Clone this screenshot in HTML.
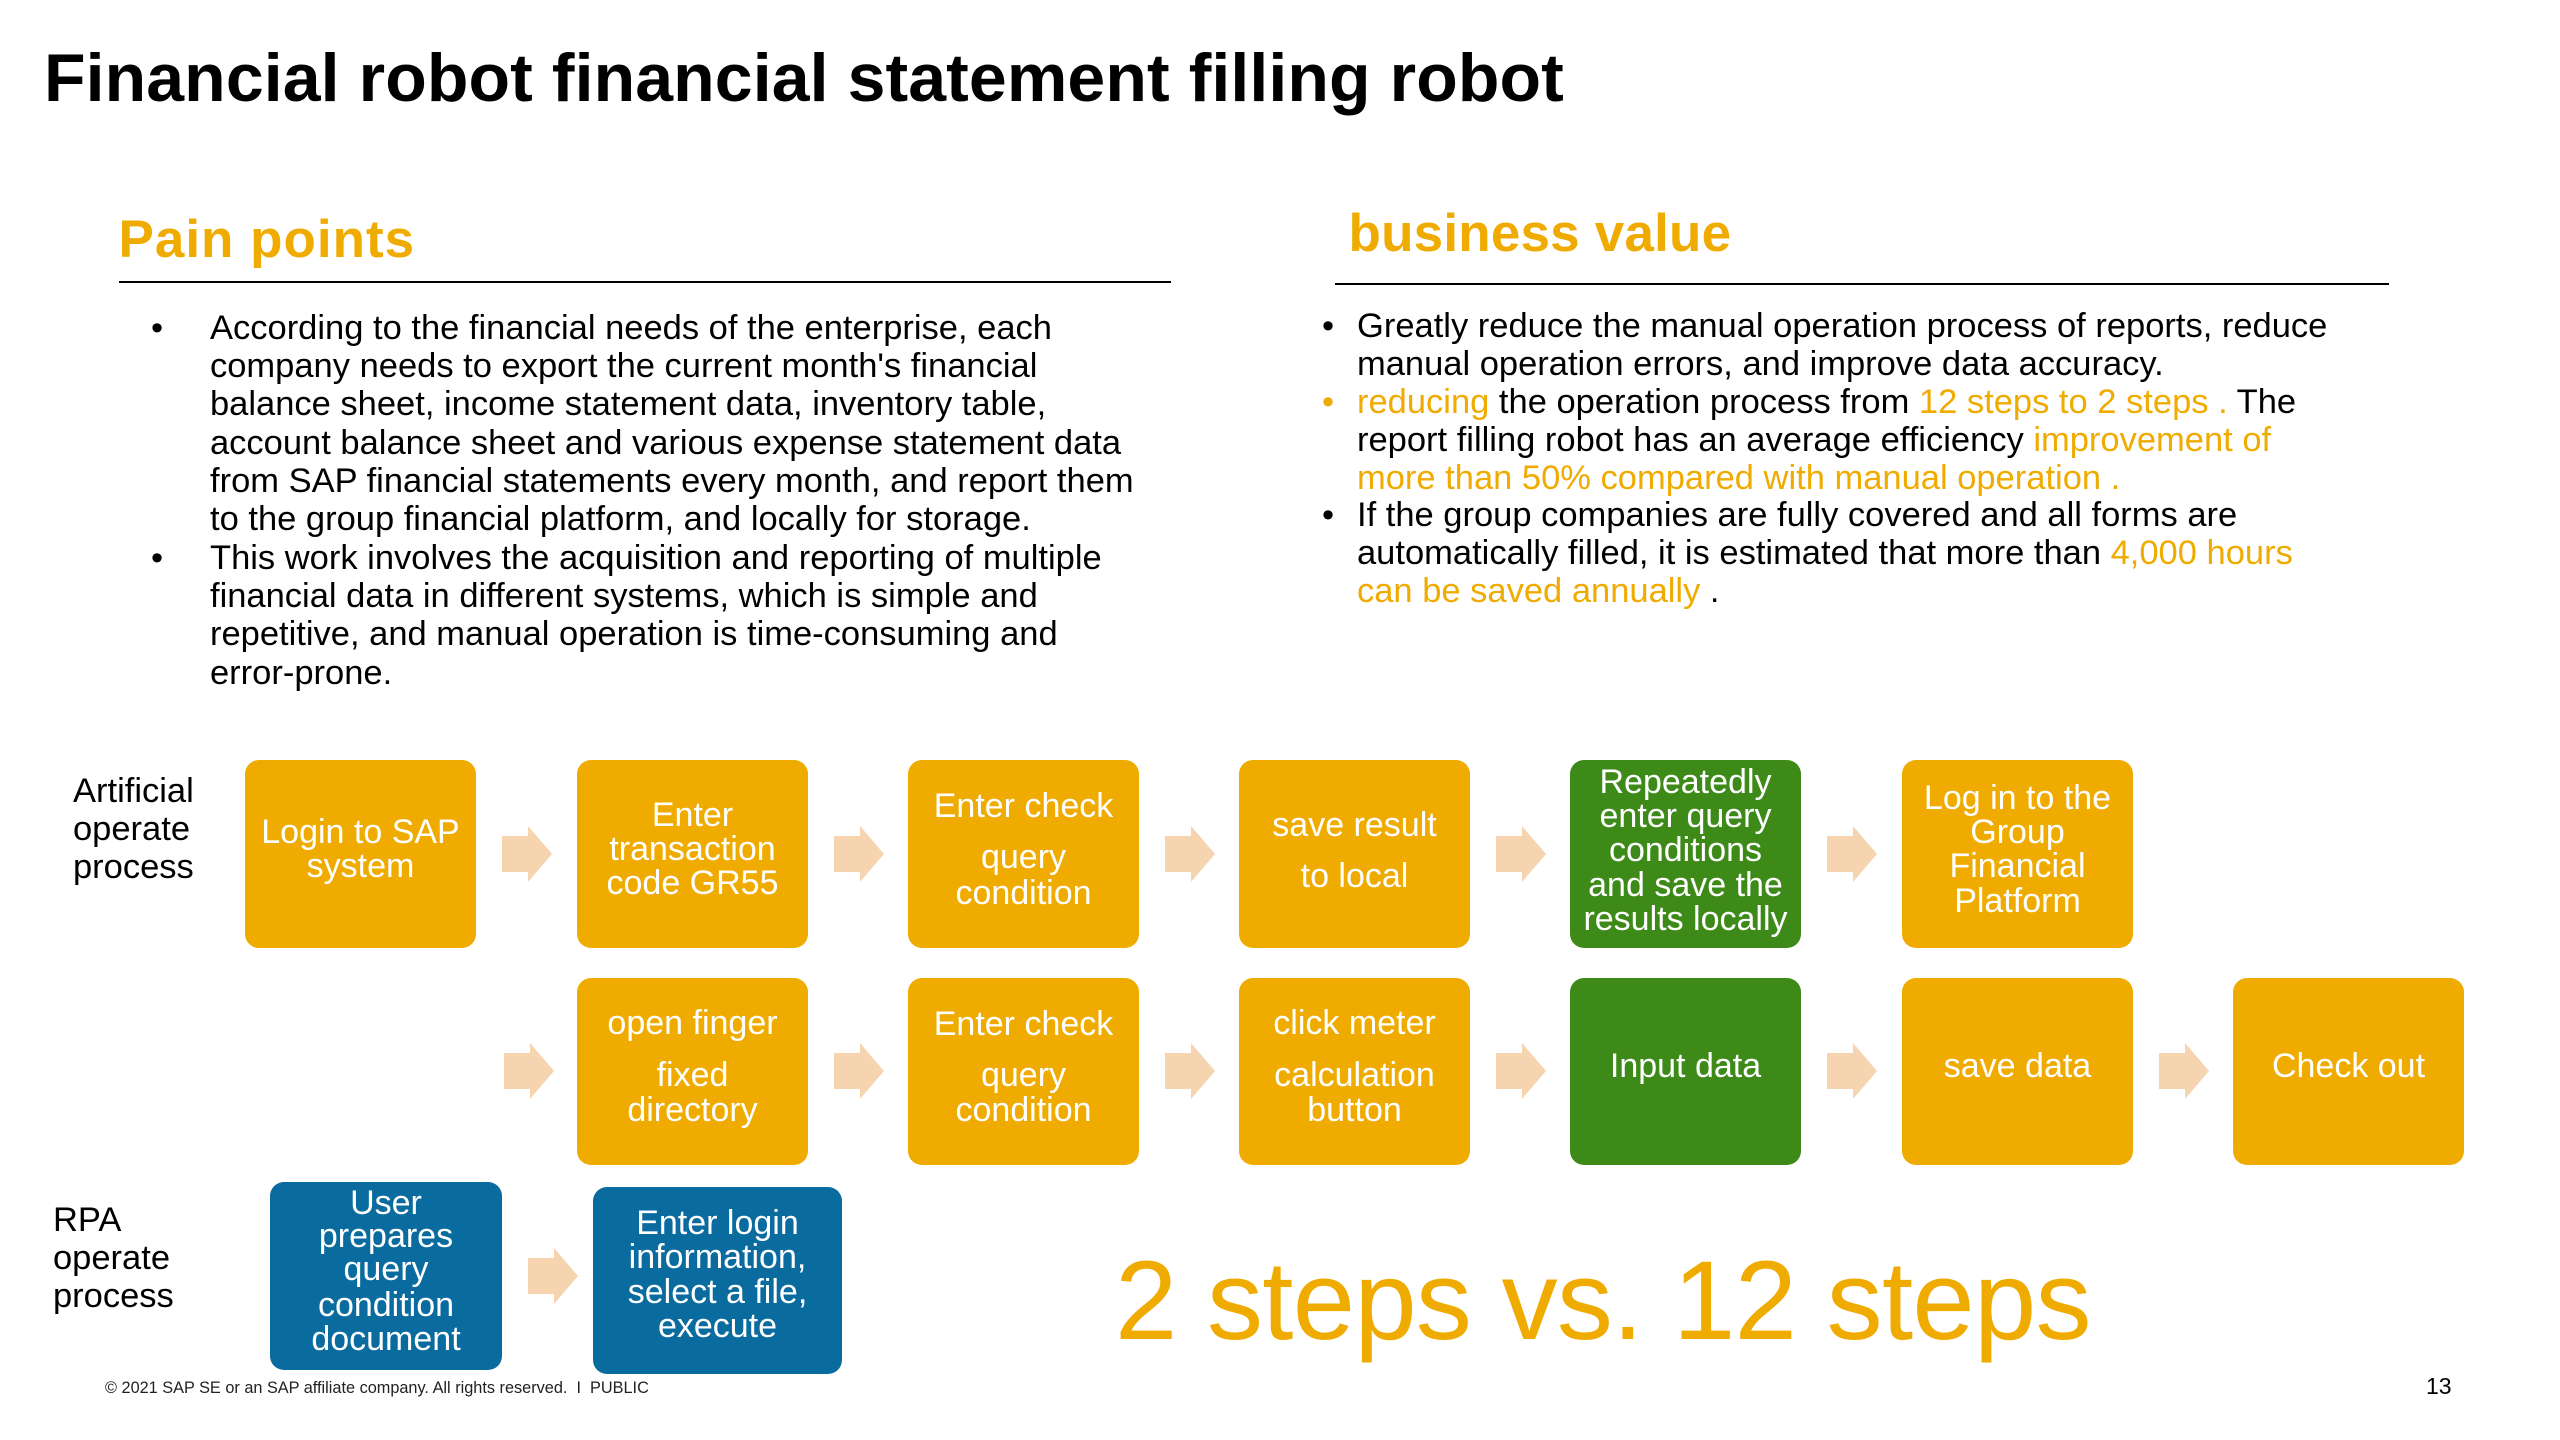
<!DOCTYPE html>
<html>
<head>
<meta charset="utf-8">
<style>
  html, body { margin:0; padding:0; }
  body { width:2560px; height:1440px; position:relative; overflow:hidden; background:#fff;
         font-family:"Liberation Sans", Arial, sans-serif; color:#000; }
  .t { position:absolute; white-space:nowrap; }
  .o { color:#F0AB00; }
  .box { position:absolute; border-radius:14px; color:#fff; }
  .org { background:#F0AB00; }
  .grn { background:#3D8A19; }
  .blu { background:#0A6B9F; }
  .box .l { position:absolute; left:-10px; right:-10px; text-align:center; font-size:34px; line-height:34.5px; white-space:nowrap; }
  .body { font-size:34.5px; }
  .hr { position:absolute; height:2px; background:#000; }
</style>
</head>
<body>

<!-- Title -->
<div class="t" style="left:44px; top:44.4px; font-size:68px; line-height:68px; font-weight:bold; letter-spacing:0.1px;">Financial robot financial statement filling robot</div>

<!-- Pain points header -->
<div class="t o" style="left:118.5px; top:213.1px; font-size:53px; line-height:53px; font-weight:bold; letter-spacing:1px;">Pain points</div>
<div class="hr" style="left:119px; top:280.5px; width:1052px;"></div>

<!-- Business value header -->
<div class="t o" style="left:1348.5px; top:206.7px; font-size:53px; line-height:53px; font-weight:bold; letter-spacing:0.2px;">business value</div>
<div class="hr" style="left:1335px; top:282.7px; width:1054px;"></div>

<!-- Pain points body -->
<div class="t body" style="left:151px; top:308.7px; line-height:38.35px;">•</div>
<div class="t body" style="left:151px; top:538.8px; line-height:38.35px;">•</div>
<div class="t body" style="left:210px; top:308.7px; line-height:38.35px;">According to the financial needs of the enterprise, each<br>company needs to export the current month's financial<br>balance sheet, income statement data, inventory table,<br>account balance sheet and various expense statement data<br>from SAP financial statements every month, and report them<br>to the group financial platform, and locally for storage.<br>This work involves the acquisition and reporting of multiple<br>financial data in different systems, which is simple and<br>repetitive, and manual operation is time-consuming and<br>error-prone.</div>

<!-- Business value body -->
<div class="t body" style="left:1322px; top:307.9px; line-height:37.9px;">•</div>
<div class="t body o" style="left:1322px; top:383.7px; line-height:37.9px;">•</div>
<div class="t body" style="left:1322px; top:497.4px; line-height:37.9px;">•</div>
<div class="t body" style="left:1357px; top:307.9px; line-height:37.9px;">Greatly reduce the manual operation process of reports, reduce<br>manual operation errors, and improve data accuracy.<br><span class="o">reducing</span> the operation process from <span class="o">12 steps to 2 steps .</span> The<br>report filling robot has an average efficiency <span class="o">improvement of</span><br><span class="o">more than 50% compared with manual operation .</span><br>If the group companies are fully covered and all forms are<br>automatically filled, it is estimated that more than <span class="o">4,000 hours</span><br><span class="o">can be saved annually</span> .</div>

<!-- Left labels -->
<div class="t body" style="left:73px; top:771.7px; line-height:38px;">Artificial<br>operate<br>process</div>
<div class="t body" style="left:53px; top:1201px; line-height:38px;">RPA<br>operate<br>process</div>

<!-- Row 1 boxes -->
<div class="box org" style="left:245px; top:760px; width:231px; height:188px;">
  <div class="l" style="top:55px;">Login to SAP</div>
  <div class="l" style="top:89px;">system</div>
</div>
<div class="box org" style="left:577px; top:760px; width:231px; height:188px;">
  <div class="l" style="top:37.5px;">Enter</div>
  <div class="l" style="top:72px;">transaction</div>
  <div class="l" style="top:106px;">code GR55</div>
</div>
<div class="box org" style="left:908px; top:760px; width:231px; height:188px;">
  <div class="l" style="top:29px;">Enter check</div>
  <div class="l" style="top:80px;">query</div>
  <div class="l" style="top:116px;">condition</div>
</div>
<div class="box org" style="left:1239px; top:760px; width:231px; height:188px;">
  <div class="l" style="top:48px;">save result</div>
  <div class="l" style="top:99px;">to local</div>
</div>
<div class="box grn" style="left:1570px; top:760px; width:231px; height:188px;">
  <div class="l" style="top:4.5px;">Repeatedly</div>
  <div class="l" style="top:39px;">enter query</div>
  <div class="l" style="top:72.5px;">conditions</div>
  <div class="l" style="top:107.5px;">and save the</div>
  <div class="l" style="top:141.5px;">results locally</div>
</div>
<div class="box org" style="left:1902px; top:760px; width:231px; height:188px;">
  <div class="l" style="top:20.5px;">Log in to the</div>
  <div class="l" style="top:55px;">Group</div>
  <div class="l" style="top:89px;">Financial</div>
  <div class="l" style="top:124px;">Platform</div>
</div>

<!-- Row 2 boxes -->
<div class="box org" style="left:577px; top:978px; width:231px; height:187px;">
  <div class="l" style="top:27.5px;">open finger</div>
  <div class="l" style="top:80px;">fixed</div>
  <div class="l" style="top:114.7px;">directory</div>
</div>
<div class="box org" style="left:908px; top:978px; width:231px; height:187px;">
  <div class="l" style="top:29px;">Enter check</div>
  <div class="l" style="top:80px;">query</div>
  <div class="l" style="top:115px;">condition</div>
</div>
<div class="box org" style="left:1239px; top:978px; width:231px; height:187px;">
  <div class="l" style="top:27.5px;">click meter</div>
  <div class="l" style="top:80px;">calculation</div>
  <div class="l" style="top:114.7px;">button</div>
</div>
<div class="box grn" style="left:1570px; top:978px; width:231px; height:187px;">
  <div class="l" style="top:71px;">Input data</div>
</div>
<div class="box org" style="left:1902px; top:978px; width:231px; height:187px;">
  <div class="l" style="top:71px;">save data</div>
</div>
<div class="box org" style="left:2233px; top:978px; width:231px; height:187px;">
  <div class="l" style="top:71px;">Check out</div>
</div>

<!-- RPA boxes -->
<div class="box blu" style="left:270px; top:1182px; width:232px; height:188px;">
  <div class="l" style="top:3.5px;">User</div>
  <div class="l" style="top:37px;">prepares</div>
  <div class="l" style="top:70px;">query</div>
  <div class="l" style="top:106px;">condition</div>
  <div class="l" style="top:140px;">document</div>
</div>
<div class="box blu" style="left:593px; top:1187px; width:249px; height:187px;">
  <div class="l" style="top:19px;">Enter login</div>
  <div class="l" style="top:52.6px;">information,</div>
  <div class="l" style="top:88px;">select a file,</div>
  <div class="l" style="top:121.5px;">execute</div>
</div>

<!-- Arrows -->
<svg width="2560" height="1440" style="position:absolute; left:0; top:0;" xmlns="http://www.w3.org/2000/svg">
  <defs>
    <polygon id="ar" points="0,10 26,10 26,0 50,28 26,56 26,46 0,46" fill="#F5D4AF"/>
  </defs>
  <use href="#ar" x="502" y="826"/>
  <use href="#ar" x="834" y="826"/>
  <use href="#ar" x="1165" y="826"/>
  <use href="#ar" x="1496" y="826"/>
  <use href="#ar" x="1827" y="826"/>

  <use href="#ar" x="504" y="1043"/>
  <use href="#ar" x="834" y="1043"/>
  <use href="#ar" x="1165" y="1043"/>
  <use href="#ar" x="1496" y="1043"/>
  <use href="#ar" x="1827" y="1043"/>
  <use href="#ar" x="2159" y="1043"/>

  <use href="#ar" x="528" y="1248"/>
</svg>

<!-- Big comparison text -->
<div class="t o" style="left:1115px; top:1245.2px; font-size:112px; line-height:112px; letter-spacing:-0.7px;">2 steps vs. 12 steps</div>

<!-- Footer -->
<div class="t" style="left:105px; top:1380px; font-size:16.3px; line-height:16px; color:#222;">© 2021 SAP SE or an SAP affiliate company. All rights reserved. &nbsp;I &nbsp;PUBLIC</div>
<div class="t" style="left:2426px; top:1374.5px; font-size:23px; line-height:23px;">13</div>

</body>
</html>
